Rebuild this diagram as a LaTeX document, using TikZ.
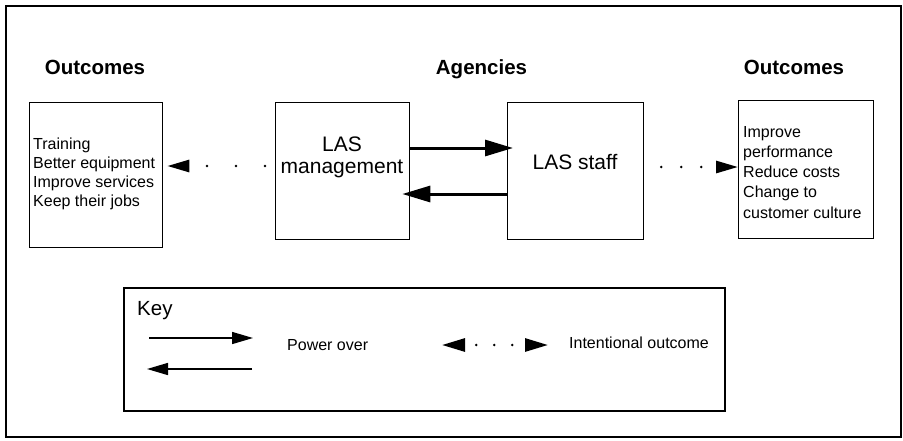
\documentclass[tikz,border=0pt]{standalone}
\usepackage{fontspec}
\setmainfont{Liberation Sans}
\usetikzlibrary{arrows.meta}
\begin{document}
\begin{tikzpicture}[x=1pt,y=-1pt,
  box/.style={draw,line width=1.3pt,rectangle,inner sep=0pt,anchor=north west},
  head/.style={font=\bfseries\fontsize{20.5}{24}\selectfont,anchor=base,inner sep=0pt},
  small/.style={font=\fontsize{16}{19.2}\selectfont,anchor=base west,align=left,inner sep=0pt},
  big/.style={font=\fontsize{21}{21.3}\selectfont,anchor=base,align=center,inner sep=0pt},
  power/.style={line width=3pt,-{Triangle[length=28pt,width=16pt]}},
  keypower/.style={line width=1.5pt,-{Triangle[length=21pt,width=12pt]}},
  dotarrow/.style={line width=2.8pt,line cap=round,-{Triangle[length=22pt,width=12pt]}},
]
\useasboundingbox (0,0) rectangle (903,440);
\draw[line width=2pt] (6,6) rectangle (901,437);

% headers
\node[head] (h1) at (95,74) {Outcomes};
\node[head] (h2) at (481.5,74) {Agencies};
\node[head] (h3) at (794,74) {Outcomes};

% boxes
\node[box,minimum width=133pt,minimum height=145pt] (lout) at (29,102) {};
\node[box,minimum width=134pt,minimum height=137pt] (mgmt) at (275,102) {};
\node[box,minimum width=136pt,minimum height=137pt] (staff) at (507,102) {};
\node[box,minimum width=135pt,minimum height=138pt] (rout) at (738,100) {};

% texts (base anchor = baseline of the last line)
\node[small] (ltext) at (33,206.7) {Training\\Better equipment\\Improve services\\Keep their jobs};
\node[big] (mtext) at (342,173) {LAS\\management};
\node[big] (stext) at (575,169) {LAS staff};
\node[small,font=\fontsize{16}{20.25}\selectfont] (rtext) at (743,218) {Improve\\performance\\Reduce costs\\Change to\\customer culture};

% power arrows
\draw[power,shorten >=-6pt] (mgmt.east |- 0,148) -- (staff.west |- 0,148);
\draw[power,shorten >=-8pt] (staff.west |- 0,194) -- (mgmt.east |- 0,194);

% intentional outcome arrows
\draw[dotarrow,dash pattern=on 0pt off 29pt,dash phase=19pt,shorten >=4pt] (mgmt.west |- 0,166) -- (lout.east |- 0,166);
\draw[dotarrow,dash pattern=on 0pt off 20pt,dash phase=3pt] (staff.east |- 0,167) -- (rout.west |- 0,167);

% key
\node[box,line width=1.5pt,minimum width=601pt,minimum height=123pt] (key) at (123,287) {};
\node[font=\fontsize{20.5}{24}\selectfont,anchor=base west,inner sep=0pt] (keyt) at (137,315) {Key};
\coordinate (k1a) at (149,338);
\coordinate (k1b) at (253,338);
\coordinate (k2a) at (252,369);
\coordinate (k2b) at (147,369);
\draw[keypower] (k1a) -- (k1b);
\draw[keypower] (k2a) -- (k2b);
\node[small] (pow) at (287,350.7) {Power over};
\coordinate (k3a) at (442,345);
\coordinate (k3b) at (548,345);
\draw[line width=2.8pt,line cap=round,{Triangle[length=23pt,width=13pt]}-{Triangle[length=23pt,width=13pt]},dash pattern=on 0pt off 18pt,dash phase=6pt] (k3a) -- (k3b);
\node[small] (intent) at (569,348.5) {Intentional outcome};
\end{tikzpicture}
\end{document}
